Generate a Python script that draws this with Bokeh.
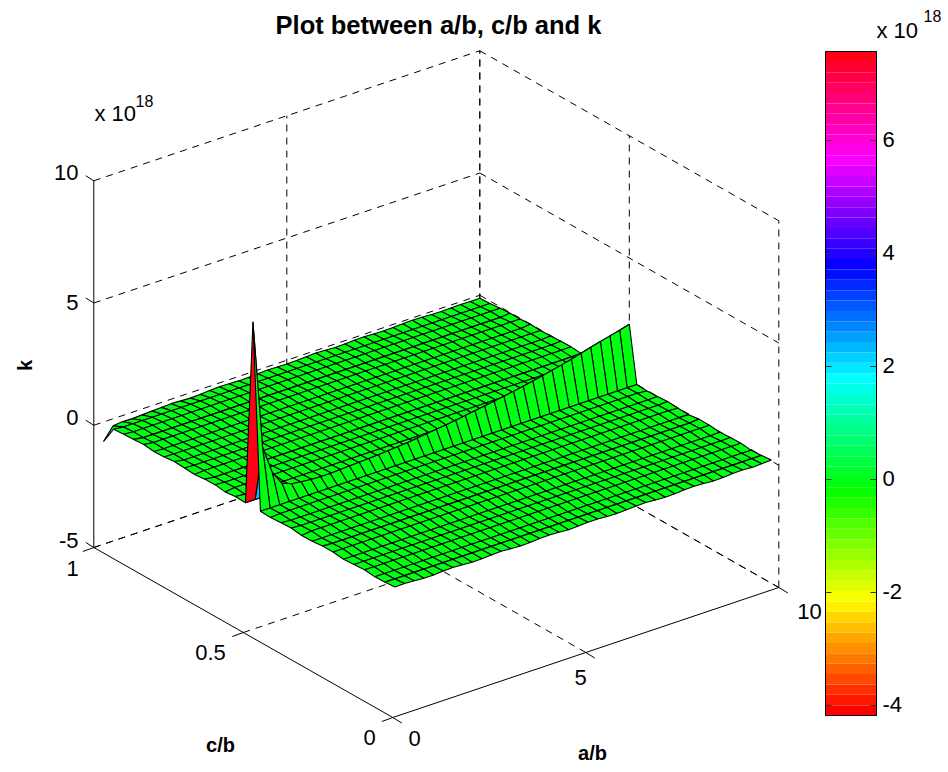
import colorsys
from bokeh.plotting import figure, ColumnDataSource
from bokeh.models import Range1d
from bokeh.core.properties import value
from bokeh.embed import file_html
from bokeh.resources import INLINE

# ---------- data (k in units of 1e18) ----------
a_values = [0.25, 0.5, 0.75, 1.0, 1.25, 1.5, 1.75, 2.0, 2.25, 2.5, 2.75, 3.0, 3.25, 3.5, 3.75, 4.0, 4.25, 4.5, 4.75, 5.0,
            5.25, 5.5, 5.75, 6.0, 6.25, 6.5, 6.75, 7.0, 7.25, 7.5, 7.75, 8.0, 8.25, 8.5, 8.75, 9.0, 9.25, 9.5, 9.75, 10.0]
c_values = [0.025, 0.058, 0.092, 0.127, 0.162, 0.197, 0.232, 0.267, 0.302, 0.337, 0.372, 0.406, 0.441, 0.475, 0.5,
            0.525, 0.559, 0.593, 0.627, 0.661, 0.695, 0.729, 0.763, 0.797, 0.831, 0.865, 0.899, 0.932, 0.966, 1.0]
# general level of the sheet, one value per c
k_level = [0.02, 0.0, -0.02, 0.02, 0.0, -0.03, 0.02, 0.0, -0.02, 0.02, 0.0, -0.02, 0.01, 0.0, 0.0,
           0.0, -0.02, 0.02, 0.0, -0.03, 0.0, -0.02, -0.04, -0.03, -0.05, -0.03, -0.07, -0.06, -0.1, -0.15]
# edges of the sheet
k_front_c025 = [0.03, 0.04, 0.02, -0.01, -0.01, 0.02, 0.03, 0.01, -0.02, -0.01, 0.01, 0.03, 0.0, -0.02, -0.01, 0.02, 0.03, 0.01, -0.02, 0.0,
                0.02, 0.02, -0.01, -0.02, 0.0, 0.02, 0.03, 0.0, -0.02, -0.01, 0.02, 0.03, 0.01, -0.02, -0.01, 0.02, 0.03, 0.0, 0.02, 0.04]
k_back_c1 = [-0.8, -0.29, -0.25, -0.26, -0.24, -0.22, -0.2, -0.18, -0.2, -0.22, -0.2, -0.17, -0.15, -0.16, -0.18, -0.17, -0.15, -0.13, -0.14, -0.15,
             -0.14, -0.12, -0.1, -0.12, -0.14, -0.13, -0.11, -0.1, -0.12, -0.13, -0.12, -0.1, -0.09, -0.1, -0.12, -0.13, -0.12, -0.11, -0.12, -0.12]
k_left_a025 = [0.03, 0.0, -0.02, 0.03, 0.0, -0.03, 0.02, 0.02, -0.02, -0.03, 0.03, 0.01, -0.02, 0.0, 7.575,
               0.0, 0.02, -0.03, 0.03, 0.02, -0.03, 0.0, 0.03, -0.02, -0.03, 0.02, -0.01, -0.03, -0.06, -0.8]
k_right_a10 = [0.04, 0.0, -0.03, 0.02, 0.01, -0.02, 0.02, 0.03, -0.03, -0.01, 0.02, -0.01, -0.03, 0.0, 2.29,
               0.01, -0.01, 0.01, 0.02, -0.02, 0.01, 0.0, -0.02, -0.03, -0.01, -0.03, -0.03, -0.06, -0.1, -0.12]
# the ridge along c = 0.5
k_ridge_c05 = [7.575, 2.3, 1.15, 0.57, 0.42, 0.37, 0.33, 0.31, 0.31, 0.33, 0.35, 0.37, 0.39, 0.41, 0.44, 0.47, 0.5, 0.55, 0.6, 0.65,
               0.7, 0.76, 0.82, 0.88, 0.94, 1.0, 1.07, 1.14, 1.22, 1.3, 1.38, 1.47, 1.56, 1.66, 1.77, 1.88, 1.98, 2.08, 2.18, 2.29]
k_min, k_max = -4.177, 7.575
z_ticks = [-5, 0, 5, 10]
z_tick_labels = ["-5", "0", "5", "10"]
a_ticks = [0, 5, 10]
c_ticks = [0, 0.5, 1]
bar_ticks = [-4, -2, 0, 2, 4, 6]
title = "Plot between a/b, c/b and k"

# ---------- projection of the MATLAB view ----------
def px(a, c):
    return 392.3 + a * 38.6 - c * 299.0
def py(a, c, z):
    return 717.0 - a * 13.0 - c * 170.0 - (z + 5) * 24.45
def bar_y(v):
    return 705.0 - (v + 4) * 56.5

def colour(v):
    n = 64
    i = min(n - 1, max(0, int((v - k_min) / (k_max - k_min) * n)))
    r, g, b = colorsys.hsv_to_rgb(i / n, 1, 1)
    return "#%02x%02x%02x" % (round(r * 255), round(g * 255), round(b * 255))

# assemble the sheet: k[i][j], i along c, j along a
nc, na = len(c_values), len(a_values)
k = [[k_level[i]] * na for i in range(nc)]
k[0] = list(k_front_c025)
k[nc - 1] = list(k_back_c1)
k[c_values.index(0.5)] = list(k_ridge_c05)
for i in range(nc):
    k[i][0] = k_left_a025[i]
    k[i][na - 1] = k_right_a10[i]

p = figure(width=948, height=772, x_range=Range1d(0, 948), y_range=Range1d(772, 0),
           toolbar_location=None, output_backend="svg", min_border=0)
p.axis.visible = False
p.grid.visible = False
p.outline_line_color = None
p.background_fill_color = "white"

# ---------- dashed grid on the back planes and floor ----------
gx, gy = [], []
def seg(a0, c0, z0, a1, c1, z1):
    gx.append([px(a0, c0), px(a1, c1)])
    gy.append([py(a0, c0, z0), py(a1, c1, z1)])
for z in z_ticks:
    seg(0, 1, z, 10, 1, z)
    seg(10, 1, z, 10, 0, z)
for a in a_ticks[1:]:
    seg(a, 1, -5, a, 1, 10)
    seg(a, 0, -5, a, 1, -5)
for c in c_ticks:
    seg(10, c, -5, 10, c, 10)
for c in c_ticks[1:]:
    seg(0, c, -5, 10, c, -5)
p.multi_line(gx, gy, line_color="black", line_width=1, line_dash="7 6")

# ---------- surface, far facets first ----------
faces = []
for i in range(nc - 1):
    for j in range(na - 1):
        d = 13.0 * (a_values[j] + a_values[j + 1]) + 170 * (c_values[i] + c_values[i + 1])
        faces.append((d, i, j))
faces.sort(reverse=True)
xs, ys, cols = [], [], []
for d, i, j in faces:
    idx = [(i, j), (i, j + 1), (i + 1, j + 1), (i + 1, j)]
    xs.append([px(a_values[m], c_values[l]) for l, m in idx])
    ys.append([py(a_values[m], c_values[l], k[l][m]) for l, m in idx])
    cols.append(colour(k[i][j]))
p.patches(xs="xs", ys="ys", fill_color="cols", line_color="black", line_width=1.1,
          source=ColumnDataSource(dict(xs=xs, ys=ys, cols=cols)))

# ---------- solid axes and ticks ----------
ax, ay = [], []
def seg2(x0, y0, x1, y1):
    ax.append([x0, x1]); ay.append([y0, y1])
seg2(px(0, 1), py(0, 1, -5), px(0, 1), py(0, 1, 10))
seg2(px(0, 1), py(0, 1, -5), px(0, 0), py(0, 0, -5))
seg2(px(0, 0), py(0, 0, -5), px(10, 0), py(10, 0, -5))
for z in z_ticks:
    seg2(px(0, 1), py(0, 1, z), px(0, 1) - 8, py(0, 1, z) - 5)
for c in c_ticks:
    seg2(px(0, c), py(0, c, -5), px(0, c) - 11, py(0, c, -5) + 4)
for a in a_ticks:
    seg2(px(a, 0), py(a, 0, -5), px(a, 0) + 9, py(a, 0, -5) + 5.5)
p.multi_line(ax, ay, line_color="black", line_width=1)

# ---------- colorbar ----------
n = 64
step = (k_max - k_min) / n
bb = [k_min + i * step for i in range(n)]
tt = [k_min + (i + 1) * step for i in range(n)]
p.quad(left=825, right=876, bottom=[bar_y(v) for v in bb], top=[bar_y(v) for v in tt],
       fill_color=[colour(v + step / 2) for v in bb], line_color=None)
tx, ty = [], []
for v in bar_ticks:
    y = bar_y(v)
    tx += [[825, 831], [870, 876]]
    ty += [[y, y], [y, y]]
p.multi_line(tx, ty, line_color="#333333", line_width=1)
p.quad(left=825, right=876, bottom=bar_y(k_min), top=bar_y(k_max), fill_color=None, line_color="black", line_width=1)

# ---------- text ----------
FONT = value("Liberation Sans")
def label(x, y, txt, size, align="center", weight="normal", angle=0.0):
    p.text(x=[x], y=[y], text=[txt], text_font=FONT, text_font_size=value(f"{size}px"), text_align=align,
           text_baseline="middle", text_font_style=weight, text_color="black", angle=angle)

label(438, 24, title, 25.5, weight="bold")
label(24, 365, "k", 20, weight="bold", angle=1.5708)
label(592, 752, "a/b", 20, weight="bold")
label(220, 744, "c/b", 20, weight="bold")
for z, t, y in zip(z_ticks, z_tick_labels, [540, 417, 302, 172]):
    label(78, y, t, 22, align="right")
for v, t, x, y in zip(a_ticks, ["0", "5", "10"], [414, 580, 809], [738, 677, 611]):
    label(x, y, t, 22)
for v, t, x, y in zip(c_ticks, ["0", "0.5", "1"], [369, 210, 72], [737, 652, 568]):
    label(x, y, t, 22)
for v in bar_ticks:
    label(882, bar_y(v) - 1, str(v), 22, align="left")
label(94, 113, "x 10", 22, align="left")
label(135, 100, "18", 16, align="left")
label(876, 30, "x 10", 22, align="left")
label(923, 15, "18", 16, align="left")

open("out.html", "w").write(file_html(p, INLINE))
